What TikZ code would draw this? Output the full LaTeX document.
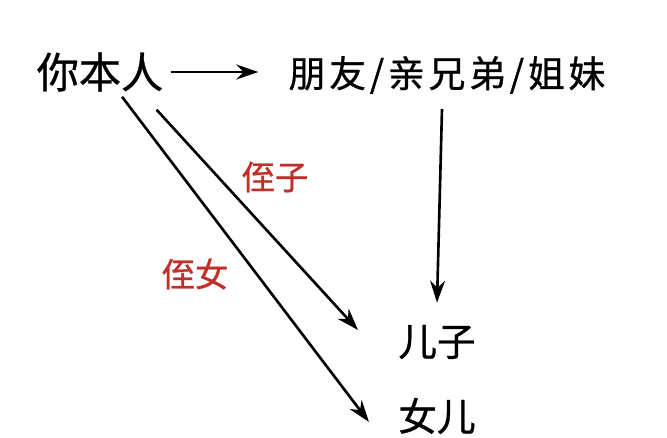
\documentclass[tikz,border=0pt]{standalone}
\usepackage{fontspec}
\newfontfamily\cjk[FakeBold=0.8]{Noto Sans CJK SC}
\usetikzlibrary{arrows.meta,calc}
\definecolor{labelred}{HTML}{C0302B}

\begin{document}
\begin{tikzpicture}[x=0.02cm, y=-0.02cm,
  word/.style={inner sep=0pt, font=\cjk\fontsize{#1}{#1}\selectfont},
  redword/.style={word=#1, text=labelred},
  arr/.style={-{Stealth[length=4.4mm, width=3mm]}, line width=1.5pt}
]
  \useasboundingbox (0,0) rectangle (667,437);

  \node[word=24pt] (me) at (100,72) {你本人};
  \node[word=21pt] (peer) at (447,75) {\addfontfeature{LetterSpace=10}朋友/亲兄弟/姐妹};
  \node[word=22pt] (son) at (437,342) {儿子};
  \node[word=22pt] (daughter) at (437,416) {女儿};
  \node[redword=19pt] (nephew) at (275,177) {侄子};
  \node[redword=19pt] (niece) at (195,274) {侄女};

  \draw[arr] ($(me.east)+(7,0)$) -- ($(peer.west)+(-30,-3)$);
  \draw[arr] ($(peer.south)+(-5,15)$) -- ($(son.north)+(0,-22)$);
  \draw[arr] ($(me.south east)+(-7,18)$) -- ($(son.west)+(-40,-12)$);
  \draw[arr] ($(me.south)+(22,5)$) -- ($(daughter.west)+(-29,6)$);
\end{tikzpicture}
\end{document}
